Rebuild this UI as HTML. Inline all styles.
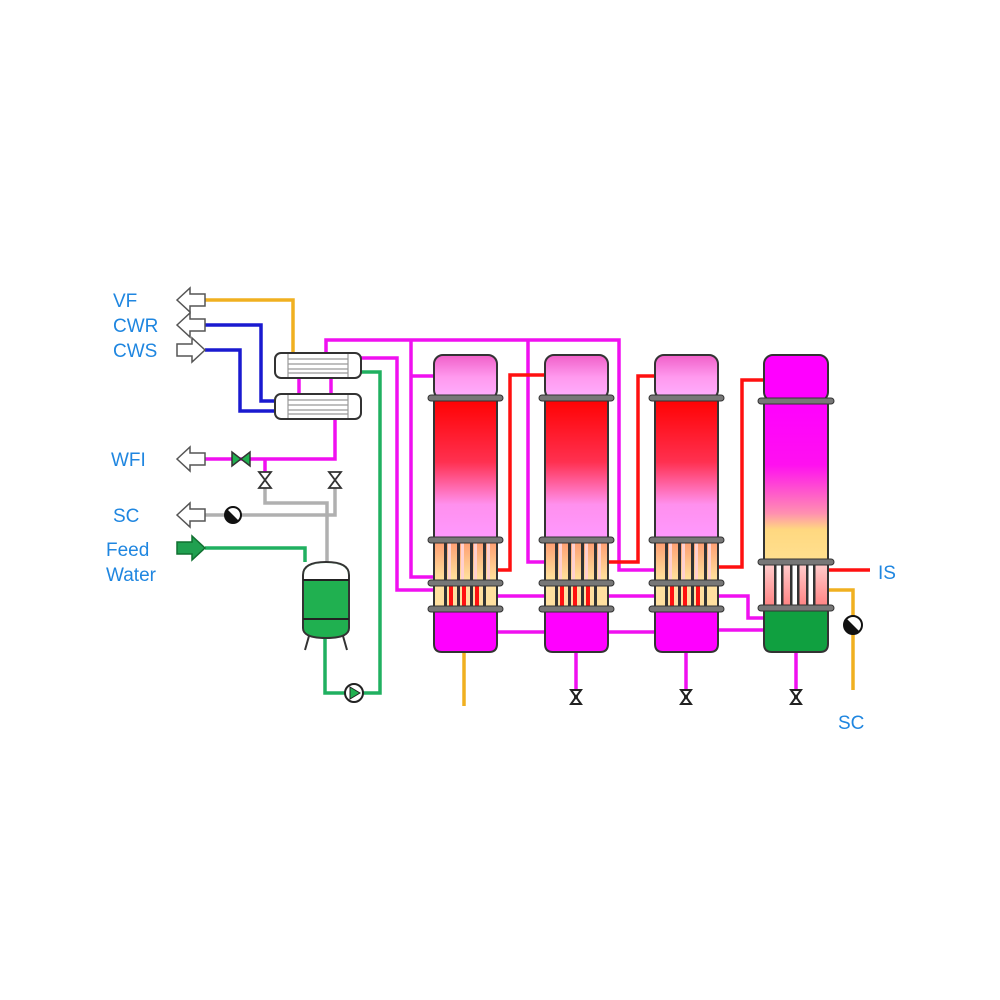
<!DOCTYPE html>
<html><head><meta charset="utf-8"><style>
html,body{margin:0;padding:0;background:#fff;}
svg{display:block;}
text{font-family:"Liberation Sans",sans-serif;font-size:19px;fill:#1f86e0;}
</style></head><body>
<svg width="1000" height="1000" viewBox="0 0 1000 1000" xmlns="http://www.w3.org/2000/svg">
<defs>
<linearGradient id="cap" x1="0" y1="0" x2="0" y2="1"><stop offset="0" stop-color="#f060c8"/><stop offset="0.5" stop-color="#ff99ee"/><stop offset="1" stop-color="#ffb0ff"/></linearGradient>
<linearGradient id="main" x1="0" y1="0" x2="0" y2="1"><stop offset="0" stop-color="#ff0000"/><stop offset="0.45" stop-color="#ff3050"/><stop offset="0.75" stop-color="#ff90ee"/><stop offset="1" stop-color="#ff99ff"/></linearGradient>
<linearGradient id="tube" x1="0" y1="0" x2="0" y2="1"><stop offset="0" stop-color="#ff9a70"/><stop offset="1" stop-color="#ffe8a0"/></linearGradient>
<linearGradient id="main4" x1="0" y1="0" x2="0" y2="1"><stop offset="0" stop-color="#ff00ff"/><stop offset="0.4" stop-color="#ff10f0"/><stop offset="0.7" stop-color="#ff90b0"/><stop offset="0.8" stop-color="#ffd880"/><stop offset="1" stop-color="#ffe090"/></linearGradient>
<linearGradient id="tube4" x1="0" y1="0" x2="0" y2="1"><stop offset="0" stop-color="#ffd0d0"/><stop offset="1" stop-color="#ff8080"/></linearGradient>
<g id="arrowL"><path d="M0,0 l13,-12 v6 h15 v12 h-15 v6 z" fill="#fff" stroke="#555" stroke-width="1.5"/></g>
<g id="valve"><path d="M-6,-8 h12 l-12,16 h12 z" fill="#fff" stroke="#333" stroke-width="1.8"/></g>
<g id="bvalve"><path d="M-5,-7 h10 l-10,14 h10 z" fill="#fff" stroke="#222" stroke-width="2"/><circle r="2" fill="#222"/></g>
</defs>

<g fill="none" stroke-width="3.5" stroke-linejoin="miter">
<path d="M205,300 H293 V353" stroke="#f0b020"/>
<path d="M205,325 H261 V401 H276" stroke="#1a1ad0"/>
<path d="M205,350 H240 V411 H276" stroke="#1a1ad0"/>
<path d="M326,353 V340 H619 V570 H655" stroke="#f010f0"/>
<path d="M411,340 V577 H434" stroke="#f010f0"/>
<path d="M411,376 H434" stroke="#f010f0"/>
<path d="M528,340 V562 H545" stroke="#f010f0"/>
<path d="M361,358 H397 V590 H434" stroke="#f010f0"/>
<path d="M299,378 V394 M331,378 V394" stroke="#f010f0"/>
<path d="M335,419 V459 H205" stroke="#f010f0"/>
<path d="M265,459 V472" stroke="#f010f0"/>
<path d="M497,596 H545 M607,596 H655 M717,596 H748 V618 H764" stroke="#f010f0"/>
<path d="M497,632 H545 M607,632 H655 M717,630 H764" stroke="#f010f0"/>
<path d="M576,652 V690 M686,652 V690 M796,652 V690" stroke="#f010f0"/>
<path d="M497,570 H510 V375 H545" stroke="#ff1010"/>
<path d="M607,562 H638 V376 H655" stroke="#ff1010"/>
<path d="M717,567 H742 V380 H764" stroke="#ff1010"/>
<path d="M828,570 H870" stroke="#ff1010"/>
<path d="M464,652 V706" stroke="#f0b020"/>
<path d="M828,590 H853 V690" stroke="#f0b020"/>
<path d="M265,488 V503 H327 V562" stroke="#b0b0b0"/>
<path d="M335,488 V515 H205" stroke="#b0b0b0"/>
<path d="M205,548 H305 V562" stroke="#20b060"/>
<path d="M325,638 V693 H380 V372 H361" stroke="#20b060"/>
</g>

<g stroke="#333" stroke-width="2">
<rect x="275" y="353" width="86" height="25" rx="6" fill="#fff"/>
<rect x="275" y="394" width="86" height="25" rx="6" fill="#fff"/>
</g>
<g stroke="#999" stroke-width="1.2">
<path d="M288,354 V377 M348,354 V377 M288,359 H348 M288,364 H348 M288,369 H348 M288,373 H348"/>
<path d="M288,395 V418 M348,395 V418 M288,400 H348 M288,405 H348 M288,410 H348 M288,414 H348"/>
</g>

<use href="#arrowL" x="177" y="300"/>
<use href="#arrowL" x="177" y="325"/>
<path d="M177,344 h15 v-6 l13,12 l-13,12 v-6 h-15 z" fill="#fff" stroke="#555" stroke-width="1.5"/>
<use href="#arrowL" x="177" y="459"/>
<use href="#arrowL" x="177" y="515"/>
<path d="M177,542 h15 v-6 l13,12 l-13,12 v-6 h-15 z" fill="#20a050" stroke="#107030" stroke-width="1.5"/>

<path d="M232,452 v14 l18,-14 v14 z" fill="#20b050" stroke="#333" stroke-width="1.5"/>
<use href="#valve" x="265" y="480"/>
<use href="#valve" x="335" y="480"/>
<circle cx="233" cy="515" r="8" fill="#fff" stroke="#111" stroke-width="2"/>
<path d="M227,509 A8,8 0 0 0 239,521 z" fill="#111"/>
<circle cx="853" cy="625" r="9" fill="#fff" stroke="#111" stroke-width="2"/>
<path d="M846.5,618.5 A9,9 0 0 0 859.5,631.5 z" fill="#111"/>
<circle cx="354" cy="693" r="9" fill="#fff" stroke="#222" stroke-width="2"/>
<path d="M350,687 L360,693 L350,699 z" fill="#20b050" stroke="#222" stroke-width="1"/>
<use href="#bvalve" x="576" y="697"/>
<use href="#bvalve" x="686" y="697"/>
<use href="#bvalve" x="796" y="697"/>

<path d="M309,636 L305,650 M343,636 L347,650" stroke="#333" stroke-width="2"/>
<path d="M303,575 Q303,562 326,562 Q349,562 349,575 V628 Q349,638 326,638 Q303,638 303,628 Z" fill="#20b050" stroke="#333" stroke-width="2"/>
<path d="M304,580 V575 Q304,563 326,563 Q348,563 348,575 V580 Z" fill="#fff"/>
<path d="M303,580 H349 M303,619 H349" stroke="#222" stroke-width="2"/>

<g id="col">
<rect x="434" y="355" width="63" height="44" rx="9" fill="url(#cap)" stroke="#333" stroke-width="2"/>
<rect x="434" y="398" width="63" height="142" fill="url(#main)" stroke="#333" stroke-width="2"/>
<rect x="434" y="540" width="63" height="43" fill="url(#tube)" stroke="#333" stroke-width="2"/>
<rect x="434" y="583" width="63" height="26" fill="#ffe0a0" stroke="#333" stroke-width="2"/>
<path d="M434,609 H497 V644 Q497,652 489,652 H442 Q434,652 434,644 Z" fill="#ff00ff" stroke="#333" stroke-width="2"/>
<g fill="#ffd0d0"><rect x="448" y="542" width="3" height="40"/><rect x="461" y="542" width="3" height="40"/><rect x="474" y="542" width="3" height="40"/><rect x="487" y="542" width="3" height="40"/></g>
<g fill="#ff1010"><rect x="449" y="585" width="4" height="23"/><rect x="462" y="585" width="4" height="23"/><rect x="475" y="585" width="4" height="23"/></g>
<g fill="#333"><rect x="444" y="540" width="3" height="69"/><rect x="457" y="540" width="3" height="69"/><rect x="470" y="540" width="3" height="69"/><rect x="483" y="540" width="3" height="69"/></g>
<g fill="#777" stroke="#333" stroke-width="1"><rect x="428" y="395" width="75" height="6" rx="3"/><rect x="428" y="537" width="75" height="6" rx="3"/><rect x="428" y="580" width="75" height="6" rx="3"/><rect x="428" y="606" width="75" height="6" rx="3"/></g>
</g>
<use href="#col" x="111"/>
<use href="#col" x="221"/>

<rect x="764" y="355" width="64" height="46" rx="9" fill="#ff00ff" stroke="#333" stroke-width="2"/>
<rect x="764" y="400" width="64" height="162" fill="url(#main4)" stroke="#333" stroke-width="2"/>
<rect x="764" y="562" width="64" height="46" fill="url(#tube4)" stroke="#333" stroke-width="2"/>
<g fill="#fff"><rect x="776" y="564" width="5" height="42"/><rect x="792" y="564" width="5" height="42"/><rect x="808" y="564" width="5" height="42"/></g>
<g fill="#333"><rect x="774" y="562" width="2.5" height="46"/><rect x="781" y="562" width="2.5" height="46"/><rect x="790" y="562" width="2.5" height="46"/><rect x="797" y="562" width="2.5" height="46"/><rect x="806" y="562" width="2.5" height="46"/><rect x="813" y="562" width="2.5" height="46"/></g>
<path d="M764,608 H828 V644 Q828,652 820,652 H772 Q764,652 764,644 Z" fill="#10a040" stroke="#333" stroke-width="2"/>
<g fill="#777" stroke="#333" stroke-width="1"><rect x="758" y="398" width="76" height="6" rx="3"/><rect x="758" y="559" width="76" height="6" rx="3"/><rect x="758" y="605" width="76" height="6" rx="3"/></g>

<text x="113" y="307">VF</text>
<text x="113" y="332">CWR</text>
<text x="113" y="357">CWS</text>
<text x="111" y="466">WFI</text>
<text x="113" y="522">SC</text>
<text x="106" y="556">Feed</text>
<text x="106" y="581">Water</text>
<text x="878" y="579">IS</text>
<text x="838" y="729">SC</text>
</svg>
</body></html>
